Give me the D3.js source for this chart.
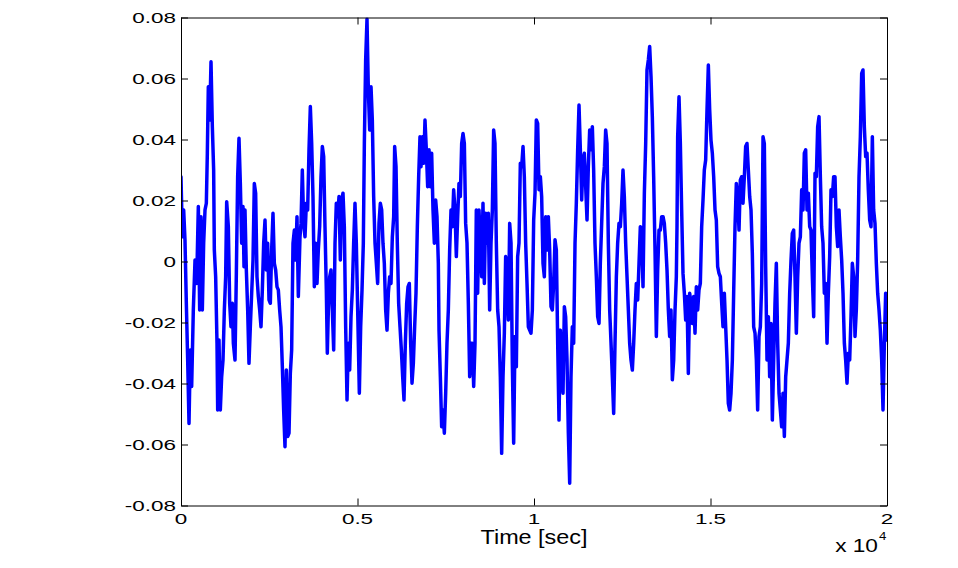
<!DOCTYPE html>
<html>
<head>
<meta charset="utf-8">
<script src="https://cdn.jsdelivr.net/npm/d3@7"></script>
<style>
  html, body { margin: 0; padding: 0; background: #fff; }
  svg { display: block; }
  text { font-family: "Liberation Sans", Arial, Helvetica, sans-serif; fill: #000; }
</style>
</head>
<body>
<svg id="chart" width="958" height="568"></svg>
<script>
// ---- data: [time (sec), amplitude] ----
const samples = [
 [0,0.0278],[38,0.0081],[76,0.0169],[113,0.0070],[151,-0.0137],[189,-0.0323],[227,-0.0531],[264,-0.0290],[302,-0.0410],[349,-0.0159],
 [397,0.0005],[444,-0.0072],[491,0.0180],[529,-0.0159],[567,0.0147],[604,-0.0159],[642,0.0060],[680,0.0169],[718,0.0191],[746,0.0355],
 [774,0.0573],[812,0.0464],[850,0.0655],[888,0.0442],[925,0.0300],[944,0.0038],[982,-0.0050],[1020,-0.0268],[1039,-0.0487],[1076,-0.0257],
 [1114,-0.0487],[1152,-0.0378],[1190,-0.0323],[1228,-0.0159],[1265,-0.0050],[1294,0.0196],[1341,0.0114],[1379,-0.0137],[1416,-0.0214],[1454,-0.0137],
 [1483,-0.0268],[1530,-0.0323],[1568,-0.0039],[1605,0.0278],[1643,0.0404],[1681,0.0256],[1719,0.0060],[1756,0.0180],[1785,-0.0017],[1813,0.0169],
 [1851,-0.0028],[1889,-0.0159],[1926,-0.0334],[1964,-0.0214],[2002,-0.0104],[2040,0.0005],[2077,0.0256],[2115,0.0224],[2153,-0.0050],[2191,-0.0115],
 [2229,-0.0159],[2266,-0.0214],[2304,-0.0093],[2342,0.0060],[2380,0.0136],[2417,-0.0028],[2455,0.0060],[2493,-0.0126],[2531,-0.0137],[2568,0.0038],
 [2606,0.0158],[2644,-0.0006],[2682,-0.0028],[2720,-0.0083],[2757,-0.0093],[2795,-0.0159],[2833,-0.0214],[2871,-0.0345],[2908,-0.0487],[2946,-0.0607],
 [2984,-0.0356],[3022,-0.0574],[3060,-0.0563],[3097,-0.0367],[3135,-0.0290],[3173,0.0060],[3211,0.0103],[3248,0.0005],[3286,0.0147],[3324,-0.0115],
 [3371,0.0081],
 [3400,0.0125],[3437,0.0300],[3475,0.0125],[3513,0.0081],[3551,0.0191],[3588,0.0169],[3626,0.0366],[3664,0.0508],[3702,0.0387],[3739,0.0213],
 [3777,-0.0083],[3815,0.0060],[3853,-0.0072],[3890,0.0038],[3928,0.0114],[3966,0.0278],[4004,0.0377],[4042,0.0344],[4079,0.0114],[4117,-0.0093],
 [4145,-0.0301],[4174,-0.0159],[4212,-0.0050],[4249,-0.0028],[4287,-0.0159],[4325,-0.0290],[4363,0.0060],[4400,0.0191],[4438,0.0147],[4476,0.0213],
 [4514,0.0005],[4551,0.0202],[4589,0.0224],[4627,0.0114],[4665,-0.0214],[4703,-0.0454],[4740,-0.0268],[4778,-0.0356],[4816,-0.0181],[4854,-0.0093],
 [4891,0.0060],[4929,0.0191],[4967,0.0060],[5005,-0.0159],[5052,-0.0432],[5090,-0.0214],[5128,-0.0093],[5165,0.0060],[5194,0.0387],[5231,0.0661],
 [5269,0.0795],[5307,0.0562],[5345,0.0431],[5383,0.0573],[5420,0.0464],[5458,0.0213],[5496,0.0060],[5534,-0.0006],[5571,-0.0072],[5609,0.0125],
 [5647,0.0191],[5685,0.0169],[5722,0.0060],[5760,-0.0006],[5798,-0.0159],[5836,-0.0225],[5874,-0.0104],[5911,-0.0050],[5949,-0.0072],[5987,0.0081],
 [6025,0.0147],[6053,0.0377],[6091,0.0311],[6128,0.0060],[6166,-0.0137],[6204,-0.0214],[6242,-0.0290],[6280,-0.0378],[6317,-0.0454],[6355,-0.0268],
 [6393,-0.0137],[6431,-0.0083],[6468,-0.0072],[6506,-0.0268],[6544,-0.0399],[6582,-0.0334],[6619,-0.0214],[6657,-0.0104],[6695,0.0114],[6733,0.0278],
 [6770,0.0409],
 [6799,0.0311],[6837,0.0409],[6875,0.0322],[6912,0.0464],[6950,0.0366],[6988,0.0245],[7026,0.0366],[7063,0.0245],[7101,0.0355],[7139,0.0169],
 [7177,0.0060],[7214,0.0202],[7252,0.0147],[7290,-0.0006],[7309,-0.0225],[7347,-0.0378],[7384,-0.0542],[7422,-0.0487],[7460,-0.0563],[7498,-0.0432],
 [7535,-0.0268],[7573,-0.0159],[7611,0.0038],[7649,0.0169],[7687,0.0114],[7724,0.0235],[7762,0.0169],[7800,0.0016],[7838,0.0147],[7875,0.0256],
 [7913,0.0213],[7951,0.0387],[7989,0.0420],[8027,0.0387],[8064,0.0125],[8102,0.0060],[8140,-0.0137],[8178,-0.0378],[8215,-0.0268],[8253,-0.0268],
 [8291,-0.0410],[8329,-0.0268],[8366,0.0169],[8404,-0.0104],[8442,0.0169],[8480,0.0060],[8518,-0.0050],[8555,0.0191],[8593,-0.0072],[8631,0.0158],
 [8669,0.0060],[8706,0.0158],[8744,-0.0159],[8782,0.0060],[8820,0.0169],[8857,0.0431],[8895,0.0387],[8933,0.0060],[8971,-0.0159],[9009,-0.0214],
 [9046,-0.0378],[9084,-0.0629],[9122,-0.0378],[9160,-0.0235],[9197,0.0016],[9235,-0.0050],[9273,-0.0192],[9311,0.0125],[9349,0.0060],[9386,-0.0334],
 [9424,-0.0596],[9462,-0.0246],[9500,-0.0345],[9537,0.0016],[9575,0.0060],[9613,0.0322],[9651,0.0311],[9689,0.0377],[9726,0.0278],[9764,0.0060],
 [9802,-0.0072],[9840,-0.0214],[9877,-0.0225],[9915,-0.0235],[9953,-0.0159],[9991,0.0136],[10029,0.0224],[10066,0.0464],[10104,0.0453],[10142,0.0235],
 [10180,0.0278],[10217,0.0213],[10255,-0.0006],[10293,-0.0050],[10331,0.0147],[10368,0.0038],[10406,0.0147],[10444,0.0038],[10482,-0.0148],[10520,-0.0159],
 [10557,-0.0072],[10595,0.0071],[10633,0.0038],[10671,-0.0268],[10708,-0.0520],[10746,-0.0225],[10784,-0.0323],[10822,-0.0432],[10860,-0.0148],[10897,-0.0181],
 [10935,-0.0323],[10973,-0.0563],[11011,-0.0727],[11048,-0.0378],[11086,-0.0214],[11124,-0.0268],[11162,0.0060],[11199,0.0191],[11237,0.0366],[11275,0.0513],
 [11313,0.0366],[11351,0.0202],[11388,0.0333],[11426,0.0355],[11464,0.0245],[11502,0.0136],[11539,0.0311],[11577,0.0431],[11615,0.0366],[11653,0.0442],
 [11690,0.0300],[11728,0.0060],[11766,-0.0050],[11804,-0.0181],[11842,-0.0203],[11879,-0.0006],[11917,0.0125],[11955,0.0256],[11993,0.0311],[12030,0.0431],
 [12068,0.0387],[12106,0.0060],[12144,-0.0159],[12182,-0.0268],[12219,-0.0378],[12257,-0.0498],[12295,-0.0268],[12333,-0.0050],[12370,0.0060],[12408,0.0125],
 [12446,0.0114],[12484,0.0191],[12521,0.0300],[12559,0.0213],[12597,0.0060],[12635,-0.0050],[12673,-0.0159],[12710,-0.0268],[12748,-0.0323],[12786,-0.0356],
 [12824,-0.0268],[12861,-0.0159],[12899,-0.0072],[12937,-0.0126],[12975,-0.0006],[13012,0.0114],[13050,0.0103],[13088,-0.0083],[13126,0.0224],[13164,0.0387],
 [13201,0.0628],[13239,0.0661],[13277,0.0705],[13315,0.0606],[13352,0.0475],[13390,0.0278],[13428,0.0038],[13466,-0.0246],[13504,-0.0028],[13541,0.0103],
 [13579,0.0103],[13617,0.0147],[13655,0.0147],[13692,0.0125],[13730,0.0060],[13768,-0.0028],[13806,-0.0159],[13843,-0.0246],[13881,-0.0159],[13919,-0.0388],
 [13957,-0.0323],[13995,-0.0159],[14032,-0.0050],[14051,0.0114],[14070,0.0409],[14108,0.0540],[14146,0.0387],[14183,0.0169],[14221,-0.0039],[14259,-0.0104],
 [14297,-0.0192],[14334,-0.0115],[14372,-0.0367],[14410,-0.0104],[14448,-0.0137],[14486,-0.0203],[14523,-0.0115],[14561,-0.0235],[14599,-0.0083],[14637,-0.0159],
 [14674,-0.0093],[14712,-0.0072],[14750,0.0114],[14788,0.0202],[14825,0.0300],[14863,0.0333],[14901,0.0497],[14939,0.0644],[14977,0.0497],[15014,0.0398],
 [15052,0.0355],[15090,0.0278],[15128,0.0169],[15165,0.0136],[15203,-0.0017],[15241,-0.0039],[15279,-0.0050],[15317,-0.0137],[15354,-0.0214],[15392,-0.0104],
 [15430,-0.0214],[15468,-0.0323],[15505,-0.0465],[15543,-0.0487],[15581,-0.0432],[15619,-0.0323],[15656,-0.0104],[15694,0.0114],[15732,0.0256],[15770,0.0213],
 [15808,0.0103],[15845,0.0267],[15883,0.0278],[15921,0.0191],[15959,0.0278],[15996,0.0377],[16034,0.0387],[16072,0.0300],[16110,0.0213],[16148,0.0169],
 [16185,0.0027],[16223,-0.0214],[16261,-0.0235],[16299,-0.0323],[16336,-0.0487],[16374,-0.0246],[16412,-0.0214],[16450,-0.0072],[16488,0.0409],[16525,0.0387],
 [16563,-0.0017],[16601,-0.0323],[16639,-0.0181],[16676,-0.0378],[16714,-0.0203],[16752,-0.0520],[16790,-0.0323],[16827,-0.0137],[16865,-0.0006],[16903,-0.0268],
 [16941,-0.0432],
 [16979,-0.0487],[17016,-0.0542],[17054,-0.0432],[17092,-0.0574],[17130,-0.0378],[17167,-0.0323],[17205,-0.0268],[17243,-0.0104],[17281,0.0005],[17318,0.0092],
 [17356,0.0103],[17394,-0.0050],[17432,-0.0235],[17470,-0.0050],[17507,0.0060],[17545,0.0081],[17583,0.0235],[17621,0.0169],[17658,0.0355],[17696,0.0366],
 [17734,0.0169],[17772,0.0224],[17810,0.0114],[17847,0.0103],[17885,-0.0050],[17923,-0.0181],[17961,0.0289],[17998,0.0278],[18036,0.0442],[18074,0.0475],
 [18112,0.0278],[18149,0.0114],[18187,0.0060],[18225,-0.0104],[18263,-0.0072],[18301,-0.0268],[18338,-0.0104],[18376,0.0016],[18414,0.0235],[18452,0.0213],
 [18489,0.0278],[18527,0.0278],[18565,0.0114],[18603,0.0049],[18640,0.0169],[18678,0.0081],[18716,0.0005],[18754,-0.0104],[18792,-0.0268],[18829,-0.0323],
 [18867,-0.0399],[18905,-0.0301],[18943,-0.0323],[18980,-0.0181],[19018,-0.0006],[19056,-0.0050],[19094,-0.0246],[19131,-0.0159],[19169,0.0005],[19207,0.0278],
 [19245,0.0409],[19283,0.0617],[19320,0.0628],[19358,0.0442],[19396,0.0344],[19434,0.0355],[19471,0.0235],[19509,0.0136],[19547,0.0114],[19585,0.0409],
 [19622,0.0169],[19660,0.0125],[19698,-0.0006],[19736,-0.0104],[19774,-0.0159],[19811,-0.0225],[19849,-0.0323],[19887,-0.0487],[19925,-0.0268],[19962,-0.0104],
 [20000,-0.0257]
];

const xTickValues = [0, 5000, 10000, 15000, 20000];
const xTickLabels = ["0", "0.5", "1", "1.5", "2"];
const yTickValues = [-0.08, -0.06, -0.04, -0.02, 0, 0.02, 0.04, 0.06, 0.08];
const yTickLabels = ["-0.08", "-0.06", "-0.04", "-0.02", "0", "0.02", "0.04", "0.06", "0.08"];
const xDomain = [0, 20000];
const yDomain = [-0.08, 0.08];
const xLabel = "Time [sec]";
const xExponent = "4";

// ---- layout ----
const svg = d3.select("#chart");
const L = 181, R = 887, T = 17.5, B = 505.5;
const x = d3.scaleLinear().domain(xDomain).range([L, R]);
const y = d3.scaleLinear().domain(yDomain).range([B, T]);
const tickLen = 7;
const tickFont = 14.5, tickStretch = 1.55;
const labelFont = 19.5, labelStretch = 1.2;

svg.append("defs").append("clipPath").attr("id", "clip")
  .append("rect").attr("x", L).attr("y", T).attr("width", R - L).attr("height", B - T);

// line
const line = d3.line().x(d => x(d[0])).y(d => y(d[1]));
svg.append("path")
  .datum(samples)
  .attr("clip-path", "url(#clip)")
  .attr("d", line)
  .attr("fill", "none")
  .attr("stroke", "#0000ff")
  .attr("stroke-width", 3.5)
  .attr("stroke-linejoin", "round")
  .attr("stroke-linecap", "round");

// axes (MATLAB-style box with inward ticks); labels drawn separately
const axB = d3.axisBottom(x).tickValues(xTickValues).tickSizeInner(-tickLen).tickSizeOuter(0).tickFormat("");
const axT = d3.axisTop(x).tickValues(xTickValues).tickSizeInner(-tickLen).tickSizeOuter(0).tickFormat("");
const axLft = d3.axisLeft(y).tickValues(yTickValues).tickSizeInner(-tickLen).tickSizeOuter(0).tickFormat("");
const axRgt = d3.axisRight(y).tickValues(yTickValues).tickSizeInner(-tickLen).tickSizeOuter(0).tickFormat("");

function style(g) {
  g.select(".domain").attr("stroke", "#000").attr("stroke-width", 1);
  g.selectAll(".tick line").attr("stroke", "#000").attr("stroke-width", 1);
}
svg.append("g").attr("transform", `translate(0,${B})`).call(axB).call(style);
svg.append("g").attr("transform", `translate(0,${T})`).call(axT).call(style);
svg.append("g").attr("transform", `translate(${L},0)`).call(axLft).call(style);
svg.append("g").attr("transform", `translate(${R},0)`).call(axRgt).call(style);

// tick labels (wide, stretched glyphs as in the reference)
svg.append("g").selectAll("text").data(yTickValues).join("text")
  .attr("transform", d => `translate(176,${y(d) + 5.3}) scale(${tickStretch},1)`)
  .attr("text-anchor", "end").attr("font-size", tickFont)
  .text((d, i) => yTickLabels[i]);
svg.append("g").selectAll("text").data(xTickValues).join("text")
  .attr("transform", d => `translate(${x(d)},524) scale(${tickStretch},1)`)
  .attr("text-anchor", "middle").attr("font-size", tickFont)
  .text((d, i) => xTickLabels[i]);

// x label
svg.append("text")
  .attr("transform", `translate(534,544) scale(${labelStretch},1)`)
  .attr("text-anchor", "middle").attr("font-size", labelFont).text(xLabel);

// exponent label "x 10^4"
svg.append("text")
  .attr("transform", `translate(878,552) scale(1.26,1)`)
  .attr("text-anchor", "end").attr("font-size", 18).text("x 10");
svg.append("text")
  .attr("transform", `translate(879,540) scale(1.26,1)`)
  .attr("text-anchor", "start").attr("font-size", 10.5).text(xExponent);
</script>
</body>
</html>
